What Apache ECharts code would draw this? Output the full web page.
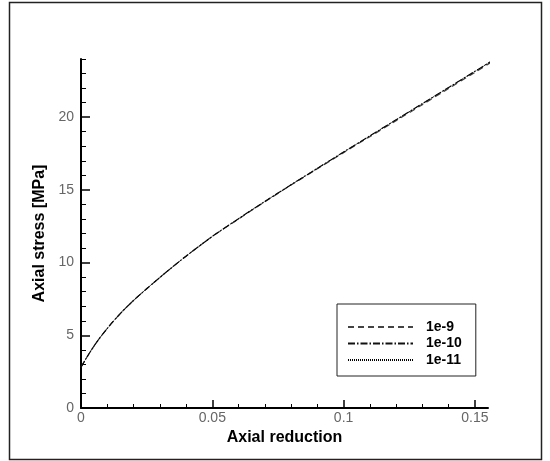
<!DOCTYPE html>
<html>
<head>
<meta charset="utf-8">
<script src="https://cdn.jsdelivr.net/npm/echarts@6/dist/echarts.min.js"></script>
<style>html,body{margin:0;padding:0;background:#fff}#c{width:550px;height:461px}</style>
</head>
<body>
<div id="c"></div>
<script>
// Data
const reduction = [0, 0.002, 0.004, 0.006, 0.008, 0.01, 0.012, 0.015, 0.018, 0.021, 0.025, 0.03, 0.035, 0.04, 0.045, 0.05, 0.06, 0.07, 0.08, 0.09, 0.1, 0.11, 0.12, 0.13, 0.14, 0.15, 0.156];
const stress_1e9  = [2.8, 3.42, 4.0, 4.53, 5.02, 5.47, 5.9, 6.5, 7.05, 7.56, 8.2, 8.97, 9.72, 10.44, 11.13, 11.8, 13.0, 14.18, 15.33, 16.45, 17.56, 18.66, 19.76, 20.86, 21.97, 23.08, 23.75];
const stress_1e10 = [2.8, 3.42, 4.0, 4.53, 5.02, 5.47, 5.9, 6.5, 7.05, 7.56, 8.2, 8.97, 9.72, 10.44, 11.13, 11.8, 13.02, 14.2, 15.35, 16.48, 17.6, 18.71, 19.82, 20.93, 22.04, 23.15, 23.82];
const stress_1e11 = [2.8, 3.42, 4.0, 4.53, 5.02, 5.47, 5.9, 6.5, 7.05, 7.56, 8.2, 8.97, 9.72, 10.44, 11.13, 11.8, 13.02, 14.2, 15.35, 16.48, 17.6, 18.71, 19.82, 20.93, 22.04, 23.15, 23.82];
const seriesNames = ['1e-9', '1e-10', '1e-11'];
const xMajorTicks = [0, 0.05, 0.1, 0.15];
const xMinorTicks = [0.01, 0.02, 0.03, 0.04, 0.06, 0.07, 0.08, 0.09, 0.11, 0.12, 0.13, 0.14];
const yMajorTicks = [0, 5, 10, 15, 20];
const yMinorTicks = [1, 2, 3, 4, 6, 7, 8, 9, 11, 12, 13, 14, 16, 17, 18, 19, 21, 22, 23, 24];

const pair = (xs, ys) => xs.map((x, i) => [x, ys[i]]);
const FONT = 'Liberation Sans, Arial, sans-serif';

const chart = echarts.init(document.getElementById('c'), null, {renderer: 'canvas'});
const axisLineStyle = {show: true, lineStyle: {color: '#000', width: 2}};
chart.setOption({
  animation: false,
  backgroundColor: '#fff',
  graphic: [{
    type: 'rect', z: -1, silent: true,
    shape: {x: 9.5, y: 2.5, width: 532, height: 457},
    style: {fill: 'none', stroke: '#222', lineWidth: 1.5}
  }],
  grid: {left: 81, top: 59, right: 62, bottom: 53, containLabel: false},
  legend: {
    orient: 'vertical',
    left: 337, top: 304,
    data: seriesNames,
    itemWidth: 65, itemHeight: 14, itemGap: 2.5,
    padding: [16, 14, 9, 10],
    borderColor: '#222', borderWidth: 1,
    backgroundColor: '#fff',
    itemStyle: {opacity: 0},
    textStyle: {fontFamily: FONT, fontSize: 14, fontWeight: 'bold', color: '#000', padding: [0, 0, 0, 8]}
  },
  xAxis: [{
    type: 'value', min: 0, max: 0.155, position: 'bottom',
    name: 'Axial reduction', nameLocation: 'middle', nameGap: 17,
    nameTextStyle: {fontFamily: FONT, fontSize: 16, fontWeight: 'bold', color: '#000'},
    axisLine: axisLineStyle,
    axisTick: {show: true, inside: true, length: 8, customValues: xMajorTicks, lineStyle: {color: '#000', width: 1.5}},
    axisLabel: {customValues: xMajorTicks, fontFamily: FONT, fontSize: 14, color: '#666', margin: 3},
    splitLine: {show: false}
  }, {
    type: 'value', min: 0, max: 0.155, position: 'bottom',
    axisLine: {show: false},
    axisTick: {show: true, inside: true, length: 4, customValues: xMinorTicks, lineStyle: {color: '#000', width: 1}},
    axisLabel: {show: false},
    splitLine: {show: false}
  }],
  yAxis: [{
    type: 'value', min: 0, max: 24, position: 'left',
    name: 'Axial stress [MPa]', nameLocation: 'middle', nameGap: 33,
    nameTextStyle: {fontFamily: FONT, fontSize: 16, fontWeight: 'bold', color: '#000'},
    axisLine: axisLineStyle,
    axisTick: {show: true, inside: true, length: 9, customValues: yMajorTicks, lineStyle: {color: '#000', width: 1.5}},
    axisLabel: {customValues: yMajorTicks, fontFamily: FONT, fontSize: 14, color: '#666', margin: 7},
    splitLine: {show: false}
  }, {
    type: 'value', min: 0, max: 24, position: 'left',
    axisLine: {show: false},
    axisTick: {show: true, inside: true, length: 5, customValues: yMinorTicks, lineStyle: {color: '#000', width: 1}},
    axisLabel: {show: false},
    splitLine: {show: false}
  }],
  series: [
    {name: seriesNames[0], type: 'line', data: pair(reduction, stress_1e9), smooth: 0.3, symbol: 'none', clip: true,
     lineStyle: {color: '#444', width: 1.2, type: [6, 4]}, itemStyle: {color: '#444'}},
    {name: seriesNames[1], type: 'line', data: pair(reduction, stress_1e10), smooth: 0.3, symbol: 'none', clip: true,
     lineStyle: {color: '#111', width: 1.2, type: [7, 2, 1.5, 2]}, itemStyle: {color: '#111'}},
    {name: seriesNames[2], type: 'line', data: pair(reduction, stress_1e11), smooth: 0.3, symbol: 'none', clip: true,
     lineStyle: {color: '#000', width: 1, type: [1, 1]}, itemStyle: {color: '#000'}}
  ]
});
</script>
</body>
</html>
